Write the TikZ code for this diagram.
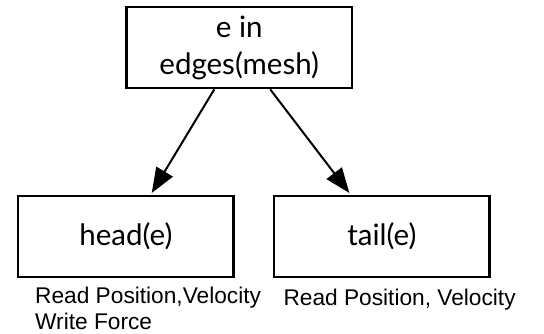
\documentclass[tikz,border=0pt]{standalone}
\usepackage{fontspec}
\setmainfont{Lato}
\newfontfamily\labelfont{Liberation Sans}
\usetikzlibrary{arrows.meta}

\tikzset{
  box/.style={draw, line width=2.3pt, inner sep=0pt, align=center,
    font=\fontsize{29.5}{37}\selectfont},
  note/.style={inner sep=0pt, align=left,
    font=\labelfont\fontsize{22.7}{26.7}\selectfont},
  link/.style={line width=2pt, -{Triangle[length=25pt,width=19pt]}}
}

\begin{document}
\begin{tikzpicture}[x=1pt,y=-1pt]
  \useasboundingbox (0,0) rectangle (544,333);

  % loop node and the two vertex accesses
  \node[box, minimum width=225.5pt, minimum height=81pt] (top) at (239.25,47.75)
    {e in\\edges(mesh)};
  \node[box, minimum width=215.2pt, minimum height=80.5pt] (head) at (125.9,236.4)
    {head(e)};
  \node[box, minimum width=215.3pt, minimum height=80.5pt] (tail) at (381.85,236.4)
    {tail(e)};

  % edges to head and tail
  \draw[link] ([xshift=-25pt]top.south) -- ([xshift=25.8pt,yshift=2pt]head.north);
  \draw[link] ([xshift=31pt]top.south) -- ([xshift=-32.5pt,yshift=2pt]tail.north);

  % access annotations
  \node[note, anchor=base west] (headnote) at (35,329.7)
    {Read Position,Velocity\\Write Force};
  \node[note, anchor=base west] (tailnote) at (283.3,305.5)
    {Read Position, Velocity};
\end{tikzpicture}
\end{document}
